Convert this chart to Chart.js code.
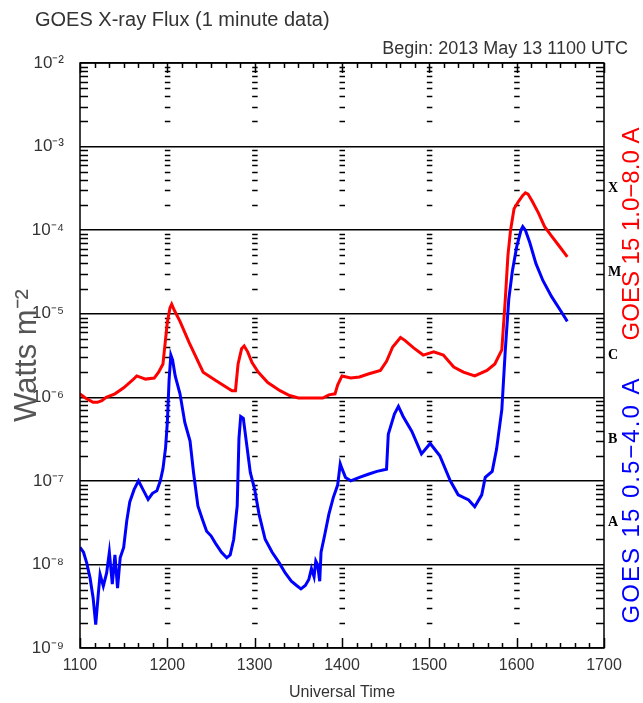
<!DOCTYPE html>
<html>
<head>
<meta charset="utf-8">
<script src="https://cdn.jsdelivr.net/npm/chart.js@4/dist/chart.umd.min.js"></script>
<style>
  html, body { margin: 0; padding: 0; background: #fff; }
  canvas { display: block; }
</style>
</head>
<body>
<canvas id="goes" width="643" height="703"></canvas>
<script>
// times in decimal hours UT, flux in W m^-2
const timeLong = [11.00,11.05,11.10,11.15,11.20,11.25,11.30,11.40,11.50,11.60,11.65,11.75,11.85,11.90,11.95,11.98,
  12.00,12.03,12.05,12.08,12.145,12.25,12.41,12.55,12.74,12.78,12.81,12.85,12.88,12.92,12.97,13.04,13.15,13.29,13.40,13.50,
  13.65,13.78,13.85,13.92,13.95,14.00,14.10,14.20,14.30,14.44,14.51,14.58,14.67,14.72,14.82,14.93,15.05,15.16,15.28,15.39,
  15.52,15.66,15.75,15.83,15.87,15.90,15.93,15.97,16.02,16.07,16.10,16.13,16.18,16.25,16.32,16.40,16.48,16.58];
const fluxLong = [1.1e-6,1.0e-6,9.3e-7,8.7e-7,8.7e-7,9.1e-7,1.0e-6,1.1e-6,1.3e-6,1.6e-6,1.8e-6,1.65e-6,1.7e-6,2.0e-6,2.5e-6,5.0e-6,
  7.9e-6,1.17e-5,1.3e-5,1.1e-5,8.1e-6,4.5e-6,2.0e-6,1.6e-6,1.2e-6,1.2e-6,2.5e-6,3.8e-6,4.1e-6,3.5e-6,2.6e-6,2.0e-6,1.5e-6,1.2e-6,1.05e-6,9.8e-7,
  9.8e-7,9.8e-7,1.07e-6,1.1e-6,1.4e-6,1.8e-6,1.7e-6,1.75e-6,1.9e-6,2.1e-6,2.7e-6,4.0e-6,5.2e-6,4.8e-6,3.9e-6,3.2e-6,3.5e-6,3.2e-6,2.3e-6,2.0e-6,
  1.8e-6,2.1e-6,2.5e-6,3.7e-6,1.5e-5,5.0e-5,1.0e-4,1.8e-4,2.2e-4,2.6e-4,2.8e-4,2.7e-4,2.2e-4,1.6e-4,1.1e-4,8.5e-5,6.6e-5,4.8e-5];

const timeShort = [11.00,11.04,11.076,11.115,11.15,11.18,11.21,11.23,11.267,11.305,11.336,11.37,11.40,11.43,11.46,11.50,11.535,11.57,11.62,11.67,
  11.72,11.78,11.83,11.88,11.92,11.95,11.98,12.00,12.02,12.04,12.06,12.09,12.145,12.20,12.26,12.30,12.35,12.40,12.45,12.50,
  12.55,12.62,12.68,12.72,12.76,12.80,12.82,12.84,12.87,12.90,12.95,13.00,13.05,13.12,13.20,13.28,13.35,13.42,13.48,13.53,
  13.58,13.62,13.65,13.68,13.70,13.72,13.745,13.76,13.80,13.85,13.90,13.95,13.98,14.00,14.04,14.10,14.20,14.30,14.40,14.51,
  14.53,14.60,14.646,14.70,14.80,14.91,15.01,15.12,15.24,15.33,15.45,15.52,15.60,15.64,15.72,15.77,15.83,15.87,15.91,15.95,
  16.00,16.05,16.07,16.10,16.15,16.22,16.30,16.40,16.50,16.58];
const fluxShort = [1.6e-8,1.4e-8,1.05e-8,6.9e-9,4.0e-9,1.9e-9,4.5e-9,7.6e-9,5.5e-9,7.9e-9,1.4e-8,5.8e-9,1.3e-8,5.2e-9,1.2e-8,1.6e-8,3.3e-8,5.6e-8,7.9e-8,1.0e-7,
  7.9e-8,6.0e-8,7.1e-8,7.6e-8,1.0e-7,1.4e-7,2.5e-7,5.0e-7,1.6e-6,3.2e-6,2.8e-6,1.8e-6,1.1e-6,5.0e-7,3.0e-7,1.26e-7,5.0e-8,3.5e-8,2.5e-8,2.2e-8,
  1.8e-8,1.4e-8,1.2e-8,1.3e-8,2.0e-8,5.0e-8,3.2e-7,5.9e-7,5.6e-7,3.2e-7,1.26e-7,7.9e-8,4.0e-8,2.0e-8,1.4e-8,1.05e-8,7.9e-9,6.3e-9,5.6e-9,5.1e-9,
  5.6e-9,6.6e-9,8.9e-9,7.1e-9,1.1e-8,1.0e-8,6.3e-9,1.4e-8,2.2e-8,4.0e-8,6.3e-8,8.9e-8,1.6e-7,1.4e-7,1.1e-7,1.0e-7,1.1e-7,1.2e-7,1.3e-7,1.38e-7,
  3.6e-7,6.3e-7,7.8e-7,5.9e-7,3.9e-7,2.1e-7,2.8e-7,2.0e-7,1.0e-7,6.8e-8,5.9e-8,4.9e-8,6.8e-8,1.1e-7,1.3e-7,2.4e-7,7.1e-7,3.7e-6,1.5e-5,3.2e-5,
  6.3e-5,1.0e-4,1.1e-4,1.0e-4,7.1e-5,4.0e-5,2.5e-5,1.6e-5,1.1e-5,8.1e-6];

const hourTicks = [11, 12, 13, 14, 15, 16, 17];
const decadeTicks = [1e-9, 1e-8, 1e-7, 1e-6, 1e-5, 1e-4, 1e-3, 1e-2];
const flareClasses = ['A', 'B', 'C', 'M', 'X'];
const flareLevels = [10 ** -7.5, 10 ** -6.5, 10 ** -5.5, 10 ** -4.5, 10 ** -3.5];

const SUP = { '-': '\u207B', '0': '\u2070', '1': '\u00B9', '2': '\u00B2', '3': '\u00B3', '4': '\u2074',
  '5': '\u2075', '6': '\u2076', '7': '\u2077', '8': '\u2078', '9': '\u2079' };
function powLabel(v) {
  const e = String(Math.round(Math.log10(v)));
  return '10' + e.split('').map(c => SUP[c]).join('');
}

const decor = {
  id: 'goesDecor',
  beforeDatasetsDraw(chart) {
    const ctx = chart.ctx, a = chart.chartArea;
    const xs = chart.scales.x, ys = chart.scales.y;
    ctx.save();
    ctx.strokeStyle = '#000';
    ctx.lineWidth = 1.5;
    ctx.beginPath();
    // minor log ticks on both side axes and dashes along each hour
    for (let d = -9; d < -2; d++) {
      for (let m = 2; m <= 9; m++) {
        const y = Math.round(ys.getPixelForValue(m * 10 ** d)) + 0.5;
        ctx.moveTo(a.left, y); ctx.lineTo(a.left + 8, y);
        ctx.moveTo(a.right, y); ctx.lineTo(a.right - 8, y);
        for (let h = 12; h <= 16; h++) {
          const x = xs.getPixelForValue(h);
          ctx.moveTo(x - 2.5, y); ctx.lineTo(x + 3, y);
        }
      }
    }
    // time ticks on top and bottom axes, every 10 minutes
    for (let k = 0; k <= 36; k++) {
      const x = Math.round(xs.getPixelForValue(11 + k / 6)) + 0.5;
      const len = k % 6 === 0 ? 10 : 5;
      ctx.moveTo(x, a.top); ctx.lineTo(x, a.top + len);
      ctx.moveTo(x, a.bottom); ctx.lineTo(x, a.bottom - len);
    }
    ctx.stroke();
    ctx.restore();
  },
  afterDatasetsDraw(chart) {
    const ctx = chart.ctx, a = chart.chartArea;
    ctx.save();
    ctx.strokeStyle = '#000';
    ctx.lineWidth = 1.5;
    ctx.strokeRect(a.left, a.top, a.right - a.left, a.bottom - a.top);
    ctx.restore();
  },
  afterDraw(chart) {
    const ctx = chart.ctx, a = chart.chartArea, ys = chart.scales.y;
    ctx.save();
    ctx.fillStyle = '#333';
    ctx.font = '20px "Liberation Sans", sans-serif';
    ctx.textBaseline = 'alphabetic';
    ctx.textAlign = 'left';
    ctx.fillText('GOES X-ray Flux (1 minute data)', 35, 26);
    ctx.font = '18px "Liberation Sans", sans-serif';
    ctx.textAlign = 'right';
    ctx.fillText('Begin: 2013 May 13 1100 UTC', 628, 54);
    ctx.textAlign = 'center';
    ctx.font = '16px "Liberation Sans", sans-serif';
    ctx.fillText('Universal Time', (a.left + a.right) / 2, 697);

    // flare class letters
    ctx.fillStyle = '#000';
    ctx.font = 'bold 14px "Liberation Serif", serif';
    ctx.textAlign = 'left';
    ctx.textBaseline = 'middle';
    flareClasses.forEach((c, i) => ctx.fillText(c, a.right + 4, ys.getPixelForValue(flareLevels[i])));

    // rotated titles
    ctx.translate(27, (a.top + a.bottom) / 2);
    ctx.rotate(-Math.PI / 2);
    ctx.fillStyle = '#555';
    ctx.font = '31px "Liberation Sans", sans-serif';
    ctx.textAlign = 'center';
    ctx.fillText('Watts m\u207B\u00B2', 0, 0);
    ctx.restore();

    ctx.save();
    ctx.translate(632, 0);
    ctx.rotate(-Math.PI / 2);
    ctx.font = '24px "Liberation Sans", sans-serif';
    ctx.textBaseline = 'middle';
    ctx.textAlign = 'center';
    ctx.fillStyle = '#ff0000';
    ctx.fillText('GOES 15 1.0\u22128.0 A', -234, 0);
    ctx.fillStyle = '#0000ff';
    ctx.letterSpacing = '2px';
    ctx.fillText('GOES 15 0.5\u22124.0 A', -500, 0);
    ctx.restore();
  }
};

const toPoints = (ts, fs) => ts.map((t, i) => ({ x: t, y: fs[i] }));

const config = {
  type: 'line',
  data: {
    datasets: [{
      label: 'GOES 15 0.5-4.0 A',
      data: toPoints(timeShort, fluxShort),
      borderColor: 'rgb(0, 0, 255)',
      borderWidth: 3,
      pointRadius: 0,
      tension: 0,
      order: 0
    }, {
      label: 'GOES 15 1.0-8.0 A',
      data: toPoints(timeLong, fluxLong),
      borderColor: 'rgb(255, 0, 0)',
      borderWidth: 3,
      pointRadius: 0,
      tension: 0,
      order: 1
    }]
  },
  options: {
    responsive: false,
    animation: false,
    devicePixelRatio: 1,
    layout: { padding: { top: 63, right: 39, left: 0, bottom: 0 } },
    plugins: { legend: { display: false }, tooltip: { enabled: false } },
    scales: {
      x: {
        type: 'linear',
        min: 11,
        max: 17,
        afterBuildTicks: s => { s.ticks = hourTicks.map(v => ({ value: v })); },
        afterFit: s => { s.height = 55; },
        ticks: {
          callback: v => String(Math.round(v * 100)),
          color: '#333',
          font: { family: 'Liberation Sans', size: 16 },
          padding: 8,
          maxRotation: 0
        },
        grid: { display: false, drawTicks: false },
        border: { display: false }
      },
      y: {
        type: 'logarithmic',
        min: 1e-9,
        max: 1e-2,
        afterBuildTicks: s => { s.ticks = decadeTicks.map(v => ({ value: v })); },
        afterFit: s => { s.width = 80; },
        ticks: {
          callback: v => powLabel(v),
          color: '#333',
          font: { family: 'Liberation Sans', size: 17 },
          padding: 16
        },
        grid: { color: '#000', lineWidth: 1.5, drawTicks: false },
        border: { display: false }
      }
    }
  },
  plugins: [decor]
};

const myChart = new Chart(document.getElementById('goes'), config);
</script>
</body>
</html>
